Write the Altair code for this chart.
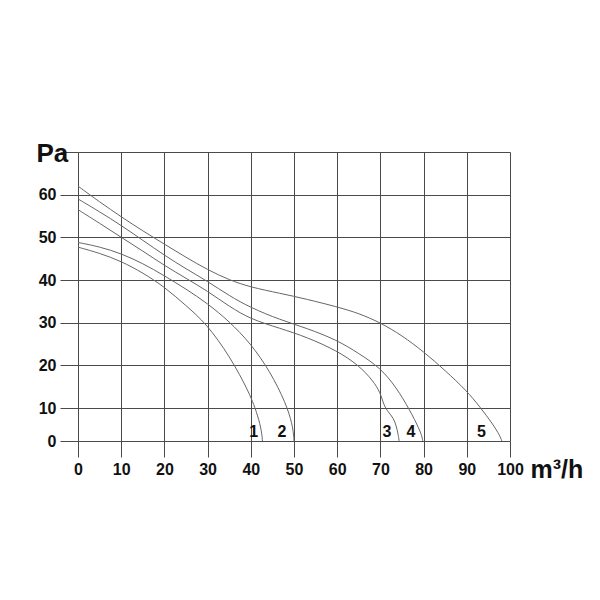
import altair as alt
import pandas as pd

# Flow (m3/h) and pressure (Pa)
c1_x = [0, 5, 10, 15, 20, 25, 29.7, 35.1, 39.8, 41.7, 42.5, 42.7]
c1_y = [47.7, 46.3, 44.4, 41.7, 38.4, 34.0, 29.8, 22.2, 13.4, 7.4, 3.0, 0]

c2_x = [0, 5, 10, 15, 20, 25, 30, 35, 39.9, 44.4, 48.2, 49.6, 49.9, 50.0]
c2_y = [48.8, 47.8, 46.2, 43.9, 41.0, 37.9, 34.5, 30.3, 25.2, 18.7, 11.0, 5.0, 2.0, 0]

c3_x = [0, 5, 10, 15, 20, 25, 30, 35, 40, 46.7, 53, 60, 65, 68.3, 70, 70.8, 71.8, 73, 73.7, 74.1, 74.3, 74.3]
c3_y = [56.5, 53.3, 50.0, 46.8, 43.4, 40.4, 37.4, 33.8, 30.8, 28.7, 26.6, 23.4, 20.0, 16.4, 13.6, 10.6, 8.8, 7.0, 4.5, 2.0, 0.5, 0]

c4_x = [0, 5, 10, 15, 20, 25, 30, 35, 40, 46.7, 53, 60, 65, 70, 73.7, 76.8, 79.1, 79.7, 79.8]
c4_y = [59.0, 56.0, 52.8, 49.3, 45.8, 42.6, 39.7, 36.3, 33.5, 30.7, 28.7, 25.9, 22.8, 19.4, 14.8, 9.4, 3.4, 1.0, 0]

c5_x = [0, 5, 10, 15, 20, 25, 30, 35, 40, 46.7, 53, 60, 65, 70, 75, 80, 85, 90, 93, 96, 97.7, 98.1]
c5_y = [62.0, 58.3, 54.8, 51.5, 48.4, 45.3, 42.4, 40.0, 38.3, 36.9, 35.5, 33.7, 32.2, 30.0, 27.0, 23.2, 18.8, 14.0, 10.3, 5.2, 1.5, 0]

curve_names = ["1", "2", "3", "4", "5"]
label_x = [40.7, 47.2, 71.5, 77.1, 93.4]
label_y = [2.6, 2.6, 2.6, 2.6, 2.6]

x_ticks = [0, 10, 20, 30, 40, 50, 60, 70, 80, 90, 100]
y_ticks = [0, 10, 20, 30, 40, 50, 60, 70]

series = [c1_x, c2_x, c3_x, c4_x, c5_x]
values = [c1_y, c2_y, c3_y, c4_y, c5_y]
rows = []
for name, xs, ys in zip(curve_names, series, values):
    for i, (xv, yv) in enumerate(zip(xs, ys)):
        rows.append({"curve": name, "q": xv, "p": yv, "order": i})
df = pd.DataFrame(rows)
labels = pd.DataFrame({"curve": curve_names, "q": label_x, "p": label_y})

FONT = "Liberation Sans Narrow, Arial Narrow, Liberation Sans, Arial, sans-serif"
GRID = "#4a4a4a"

xscale = alt.Scale(domain=[0, 100], nice=False, zero=False)
yscale = alt.Scale(domain=[0, 10, 70], range=[289, 256, 0], nice=False, zero=False)

xaxis = alt.Axis(
    values=x_ticks, grid=True, gridColor=GRID, gridWidth=1, gridOpacity=1,
    domain=False, ticks=True, tickSize=16, tickColor=GRID, tickWidth=1,
    labelFont=FONT, labelFontSize=16, labelFontWeight="bold", labelColor="#111",
    labelPadding=4, labelFlush=False, labelOverlap=False,
    title="m³/h", titleFont=FONT, titleFontSize=25,
    titleFontWeight="bold", titleColor="#111", titleAlign="left",
    titleBaseline="alphabetic", titleX=452, titleY=36,
)
yaxis = alt.Axis(
    values=y_ticks, grid=True, gridColor=GRID, gridWidth=1, gridOpacity=1,
    domain=False, ticks=True, tickSize=18, tickColor=GRID, tickWidth=1,
    labelFont=FONT, labelFontSize=16, labelFontWeight="bold", labelColor="#111",
    labelPadding=4, labelFlush=False, labelOverlap=False,
    labelExpr="datum.value == 70 ? '' : datum.label",
    title="Pa", titleFont=FONT, titleFontSize=26, titleFontWeight="bold",
    titleColor="#111", titleAngle=0, titleAlign="left",
    titleBaseline="alphabetic", titleX=-42, titleY=9,
)

lines = alt.Chart(df).mark_line(
    interpolate="basis", color="#666666", strokeWidth=1
).encode(
    x=alt.X("q:Q", scale=xscale, axis=xaxis),
    y=alt.Y("p:Q", scale=yscale, axis=yaxis),
    detail="curve:N",
    order="order:Q",
)

texts = alt.Chart(labels).mark_text(
    font=FONT, fontSize=16, fontWeight="bold", color="#111", baseline="middle", align="center"
).encode(
    x=alt.X("q:Q", scale=xscale),
    y=alt.Y("p:Q", scale=yscale),
    text="curve:N",
)

chart = alt.layer(lines, texts).properties(
    width=432, height=289,
    autosize=alt.AutoSizeParams(type="none"),
    padding={"left": 70, "top": 144, "right": 82, "bottom": 151},
    background="white",
).configure_view(stroke=None)

chart.save("out.html", embed_options={"renderer": "svg", "actions": False})
